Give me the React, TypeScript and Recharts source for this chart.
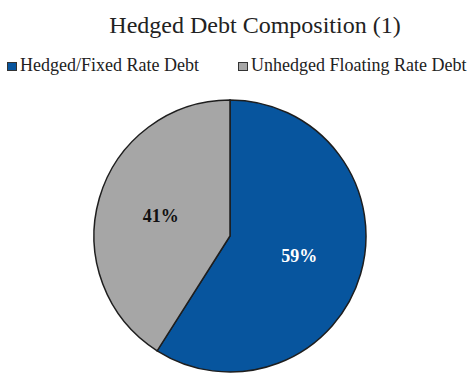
import React from "react";
import { PieChart, Pie, Cell, Legend } from "recharts";

const categories = ["Hedged/Fixed Rate Debt", "Unhedged Floating Rate Debt"];
const values = [59, 41];
const colors = ["#07559E", "#A6A6A6"];
const labelColors = ["#FFFFFF", "#111111"];
const title = "Hedged Debt Composition (1)";

const data = categories.map((name, i) => ({ name, value: values[i] }));

const FONT = "'Liberation Serif', 'Times New Roman', serif";
const RAD = Math.PI / 180;

const renderLabel = (props: any) => {
  const { cx, cy, midAngle, outerRadius, index, percent } = props;
  const r = outerRadius * 0.53;
  const x = cx + r * Math.cos(-midAngle * RAD);
  const y = cy + r * Math.sin(-midAngle * RAD);
  return (
    <text
      x={x}
      y={y}
      fill={labelColors[index]}
      textAnchor="middle"
      dominantBaseline="central"
      style={{ fontFamily: FONT, fontWeight: "bold", fontSize: 18 }}
    >
      {`${Math.round(percent * 100)}%`}
    </text>
  );
};

const renderLegend = (props: any) => {
  const { payload } = props;
  const lefts = [7, 238];
  return (
    <div style={{ position: "relative", width: 475, height: 24 }}>
      {payload.map((entry: any, i: number) => (
        <div
          key={i}
          style={{
            position: "absolute",
            left: lefts[i],
            top: 0,
            display: "flex",
            alignItems: "center",
            fontFamily: FONT,
            fontSize: 18,
            color: "#222",
            whiteSpace: "nowrap",
          }}
        >
          <span
            style={{
              display: "inline-block",
              width: 8,
              height: 7,
              background: colors[i],
              border: "1px solid #333",
              marginRight: 3,
              marginTop: 2,
            }}
          />
          <span>{entry.value}</span>
        </div>
      ))}
    </div>
  );
};

export default function App() {
  return (
    <div style={{ position: "absolute", left: 0, top: 0, width: 475, height: 373, background: "#fff" }}>
      <div
        style={{
          position: "absolute",
          left: 0,
          top: 13,
          width: 510,
          textAlign: "center",
          fontFamily: FONT,
          fontSize: 24,
          lineHeight: "24px",
          color: "#222",
          whiteSpace: "nowrap",
          zIndex: 2,
        }}
      >
        {title}
      </div>
      <PieChart width={475} height={373} margin={{ top: 0, right: 0, bottom: 0, left: 0 }}>
        <Legend
          verticalAlign="top"
          align="left"
          content={renderLegend}
          wrapperStyle={{ top: 55, left: 0, width: 475 }}
        />
        <Pie
          data={data}
          dataKey="value"
          nameKey="name"
          cx={230}
          cy={212}
          outerRadius={136}
          startAngle={90}
          endAngle={-270}
          stroke="#1E1E1E"
          strokeWidth={1.5}
          label={renderLabel}
          labelLine={false}
          isAnimationActive={false}
        >
          {data.map((d, i) => (
            <Cell key={d.name} fill={colors[i]} />
          ))}
        </Pie>
      </PieChart>
    </div>
  );
}
